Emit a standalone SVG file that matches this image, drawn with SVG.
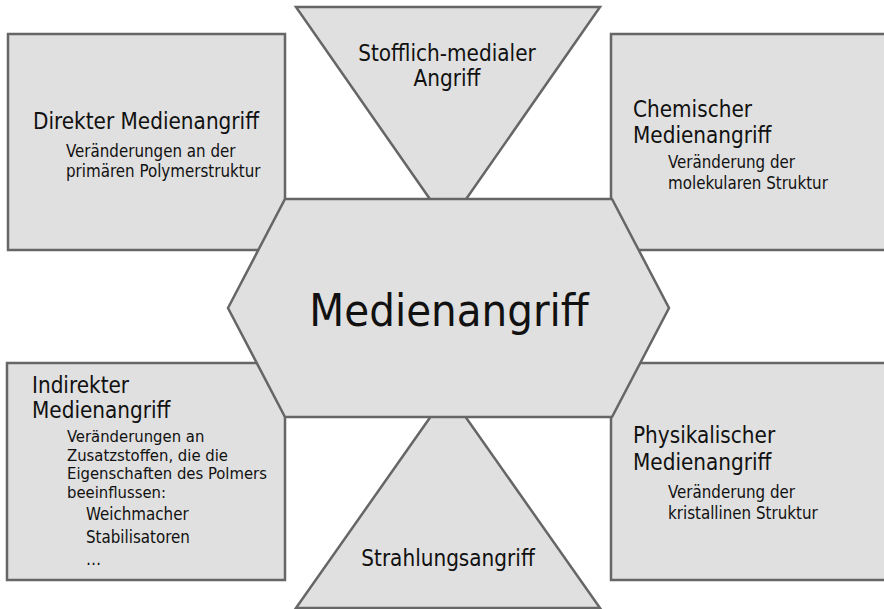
<svg xmlns="http://www.w3.org/2000/svg" width="884" height="609" viewBox="0 0 884 609">
<style>
.shape{fill:#e0e0e0;stroke:#666666;stroke-width:2.5;stroke-linejoin:miter}
text{font-family:"DejaVu Sans Condensed","DejaVu Sans",sans-serif;font-stretch:condensed;fill:#111111}
.t{font-size:22.3px}
.s{font-size:16.8px}
.c{text-anchor:middle}
</style>
<rect width="884" height="609" fill="#ffffff"/>
<g id="connectors"></g>
<g id="direkter">
<rect class="shape" x="8" y="34" width="277" height="216"/>
<text class="t" x="33" y="129">Direkter Medienangriff</text>
<text class="s" x="66" y="157">Veränderungen an der</text>
<text class="s" x="66" y="177">primären Polymerstruktur</text>
</g>
<g id="chemischer">
<rect class="shape" x="611" y="34" width="285" height="216"/>
<text class="t" x="633" y="117">Chemischer</text>
<text class="t" x="633" y="143">Medienangriff</text>
<text class="s" x="668" y="168">Veränderung der</text>
<text class="s" x="668" y="189">molekularen Struktur</text>
</g>
<g id="indirekter">
<rect class="shape" x="7" y="363" width="278" height="217"/>
<text class="t" x="32" y="393">Indirekter</text>
<text class="t" x="32" y="418">Medienangriff</text>
<text class="s" x="67" y="442" style="font-size:16.5px">Veränderungen an</text>
<text class="s" x="67" y="460.5" style="font-size:16.5px">Zusatzstoffen, die die</text>
<text class="s" x="67" y="479" style="font-size:16.5px">Eigenschaften des Polmers</text>
<text class="s" x="67" y="497.5" style="font-size:16.5px">beeinflussen:</text>
<text class="s" x="86" y="520">Weichmacher</text>
<text class="s" x="86" y="543">Stabilisatoren</text>
<text class="s" x="86" y="565">…</text>
</g>
<g id="physikalischer">
<rect class="shape" x="611" y="363" width="285" height="217"/>
<text class="t" x="633" y="443">Physikalischer</text>
<text class="t" x="633" y="470">Medienangriff</text>
<text class="s" x="668" y="498">Veränderung der</text>
<text class="s" x="668" y="519">kristallinen Struktur</text>
</g>
<g id="stofflich">
<polygon class="shape" points="296,7 600,7 448,225"/>
<text class="t c" x="447" y="61">Stofflich-medialer</text>
<text class="t c" x="447" y="86">Angriff</text>
</g>
<g id="strahlung">
<polygon class="shape" points="296,608 600,608 448,392"/>
<text class="t c" x="448" y="566">Strahlungsangriff</text>
</g>
<g id="medienangriff">
<polygon class="shape" points="228,308 285,199 612,199 669,308 612,417 285,417"/>
<text class="c" x="449" y="326" style="font-size:45px">Medienangriff</text>
</g>
</svg>
